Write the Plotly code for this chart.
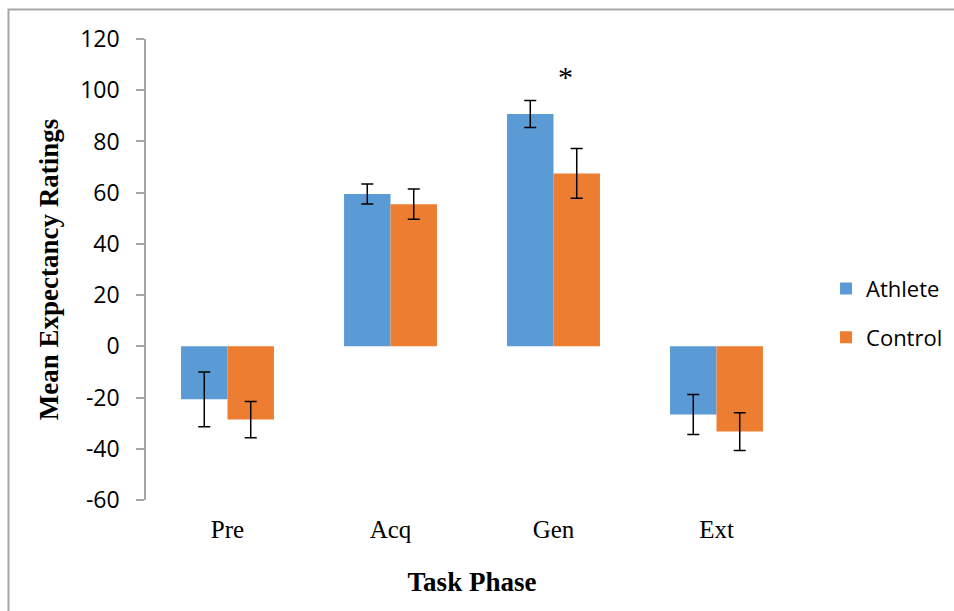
import plotly.graph_objects as go

categories = ["Pre", "Acq", "Gen", "Ext"]
athlete = [-20.7, 59.5, 90.7, -26.6]
athlete_err = [10.7, 3.9, 5.3, 7.8]
control = [-28.6, 55.5, 67.5, -33.3]
control_err = [7.1, 5.9, 9.7, 7.4]
yticks = [-60, -40, -20, 0, 20, 40, 60, 80, 100, 120]
ytick_text = ["-60", "-40", "-20", "0", "20", "40", "60", "80", "100", "120"]

W, H = 954, 611
L, R, T, B = 146, 156, 39, 111
pw, ph = W - L - R, H - T - B

fig = go.Figure()
fig.add_trace(go.Bar(
    name="Athlete", x=categories, y=athlete,
    marker=dict(color="#5B9BD5", line=dict(width=0)),
    error_y=dict(type="data", array=athlete_err, color="black", thickness=1.5, width=6),
    legendgroup="a",
))
fig.add_trace(go.Bar(
    name="Control", x=categories, y=control,
    marker=dict(color="#ED7D31", line=dict(width=0)),
    error_y=dict(type="data", array=control_err, color="black", thickness=1.5, width=6),
    legendgroup="c",
))

axis_gray = "#A6A6A6"
fig.update_layout(
    width=W, height=H,
    margin=dict(l=L, r=R, t=T, b=B, autoexpand=False),
    paper_bgcolor="white", plot_bgcolor="white",
    barmode="group", bargap=0.43, bargroupgap=0,
    showlegend=True,
    legend=dict(x=1.043, y=0.405, xanchor="left", yanchor="middle",
                font=dict(family="Open Sans", size=22, color="black"),
                traceorder="grouped", tracegroupgap=17,
                itemwidth=30),
    xaxis=dict(type="category", categoryarray=categories, range=[-0.5, 3.5],
               showline=False, ticks="", showgrid=False, zeroline=False,
               tickfont=dict(family="Liberation Serif", size=25, color="black"),
               ticklabelstandoff=12,
               title=dict(text="<b>Task Phase</b>",
                          font=dict(family="Liberation Serif", size=27, color="black"),
                          standoff=30)),
    xaxis2=dict(type="category", categoryarray=categories, range=[-0.5, 3.5],
                overlaying="x", anchor="free", position=60 / 180,
                showline=True, linecolor=axis_gray, linewidth=1.5,
                ticks="outside", tickson="boundaries", ticklen=8,
                tickcolor=axis_gray, tickwidth=1.5,
                showticklabels=False, showgrid=False, zeroline=False),
    yaxis=dict(range=[-60, 120], tickvals=yticks, ticktext=ytick_text,
               showgrid=False, zeroline=False,
               showline=True, linecolor=axis_gray, linewidth=1.5,
               ticks="outside", ticklen=8, tickcolor=axis_gray, tickwidth=1.5,
               ticklabelstandoff=12,
               tickfont=dict(family="Open Sans", size=23, color="black"),
               title=dict(text="<b>Mean Expectancy Ratings</b>",
                          font=dict(family="Liberation Serif", size=27, color="black"),
                          standoff=14)),
    annotations=[dict(x="Gen", y=105.5, xref="x", yref="y", text="*", showarrow=False,
                      xshift=12, font=dict(family="Liberation Serif", size=30, color="black"))],
    shapes=[dict(type="rect", xref="paper", yref="paper",
                 x0=(8.5 - L) / pw, x1=(W + 10 - L) / pw,
                 y0=(T + ph - (H + 10)) / ph, y1=(T + ph - 9.5) / ph,
                 line=dict(color="#A6A6A6", width=2), fillcolor="rgba(0,0,0,0)", layer="below")],
)

fig.write_html("out.html", config={"displayModeBar": False},
               post_script="document.body.style.margin='0';document.body.style.overflow='hidden';")
